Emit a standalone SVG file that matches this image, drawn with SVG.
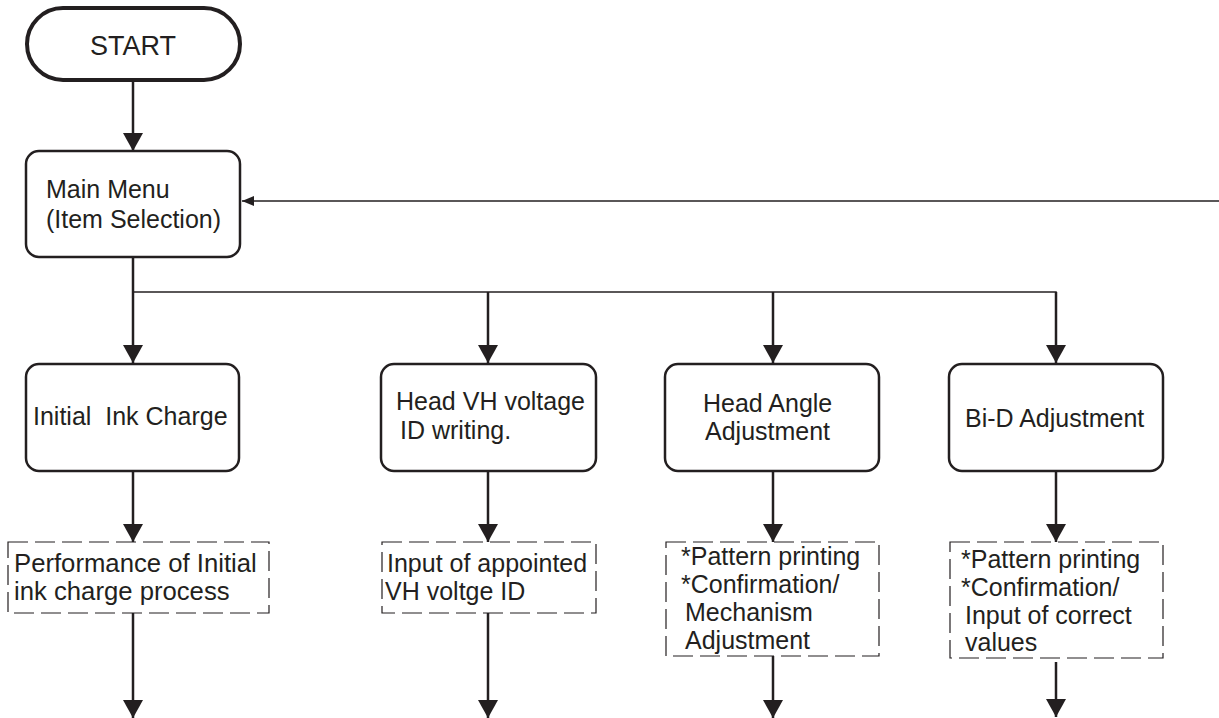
<svg xmlns="http://www.w3.org/2000/svg" width="1219" height="718" viewBox="0 0 1219 718">
<style>
text{font-family:"Liberation Sans",Arial,sans-serif;font-size:25px;fill:#231f20}
.rb{fill:#fff;stroke:#231f20;stroke-width:2.5}
.db{fill:#fff;stroke:#231f20;stroke-width:1.2;stroke-dasharray:20 7}
.ar{fill:none;stroke:#231f20;stroke-width:2.5;marker-end:url(#ah)}
.thin{fill:none;stroke:#231f20;stroke-width:1.5}
</style>
<defs>
<marker id="ah" viewBox="0 0 18 20" refX="18" refY="10" markerWidth="18" markerHeight="20" markerUnits="userSpaceOnUse" orient="auto"><path d="M0,0 L18,10 L0,20 Z" fill="#231f20"/></marker>
<marker id="ahs" viewBox="0 0 12 10" refX="12" refY="5" markerWidth="12" markerHeight="10" markerUnits="userSpaceOnUse" orient="auto"><path d="M0,0 L12,5 L0,10 Z" fill="#231f20"/></marker>
</defs>
<rect width="1219" height="718" fill="#fff"/>
<g id="connectors">
<line class="ar" x1="133" y1="81" x2="133" y2="151"/>
<line class="thin" x1="1219" y1="201" x2="242" y2="201" marker-end="url(#ahs)"/>
<line class="ar" x1="133" y1="257" x2="133" y2="363"/>
<line class="thin" x1="133" y1="292" x2="1056.75" y2="292"/>
<line class="ar" x1="488" y1="292" x2="488" y2="363"/>
<line class="ar" x1="773" y1="292" x2="773" y2="363"/>
<line class="ar" x1="1056" y1="292" x2="1056" y2="363"/>
<line class="ar" x1="133" y1="471" x2="133" y2="542"/>
<line class="ar" x1="488" y1="471" x2="488" y2="542"/>
<line class="ar" x1="773" y1="471" x2="773" y2="542"/>
<line class="ar" x1="1056" y1="471" x2="1056" y2="542"/>
<line class="ar" x1="133" y1="613" x2="133" y2="718"/>
<line class="ar" x1="488" y1="613" x2="488" y2="718"/>
<line class="ar" x1="773" y1="656" x2="773" y2="718"/>
<line class="ar" x1="1056" y1="662" x2="1056" y2="717"/>
</g>
<g id="start">
<rect x="27" y="8" width="213" height="72" rx="36" ry="36" fill="#fff" stroke="#231f20" stroke-width="4"/>
<text x="133" y="55" text-anchor="middle" style="font-size:27px">START</text>
</g>
<g id="main-menu">
<rect class="rb" x="26" y="151" width="214" height="106" rx="13"/>
<text x="46" y="198">Main Menu</text>
<text x="46" y="228">(Item Selection)</text>
</g>
<g id="initial-ink-charge">
<rect class="rb" x="26" y="364" width="213" height="107" rx="13"/>
<text x="33" y="425" xml:space="preserve">Initial  Ink Charge</text>
</g>
<g id="head-vh">
<rect class="rb" x="381" y="364" width="215" height="107" rx="13"/>
<text x="396" y="410">Head VH voltage</text>
<text x="400" y="439">ID writing.</text>
</g>
<g id="head-angle">
<rect class="rb" x="665" y="364" width="214" height="107" rx="13"/>
<text x="703" y="412">Head Angle</text>
<text x="705" y="440">Adjustment</text>
</g>
<g id="bid">
<rect class="rb" x="949" y="364" width="214" height="107" rx="13"/>
<text x="965" y="427">Bi-D Adjustment</text>
</g>
<g id="perf-initial">
<rect class="db" x="8" y="542" width="261" height="71"/>
<text x="14" y="572" style="font-size:25.7px">Performance of Initial</text>
<text x="14" y="600" style="font-size:25.7px">ink charge process</text>
</g>
<g id="input-vh">
<rect class="db" x="382" y="542" width="214" height="71"/>
<text x="387" y="572">Input of appointed</text>
<text x="385" y="600">VH voltge ID</text>
</g>
<g id="pattern-angle">
<rect class="db" x="666" y="542" width="213" height="114"/>
<text x="681" y="565">*Pattern printing</text>
<text x="681" y="593">*Confirmation/</text>
<text x="685" y="621">Mechanism</text>
<text x="685" y="649">Adjustment</text>
</g>
<g id="pattern-bid">
<rect class="db" x="950" y="542" width="213" height="116"/>
<text x="961" y="568">*Pattern printing</text>
<text x="961" y="596">*Confirmation/</text>
<text x="965" y="624">Input of correct</text>
<text x="965" y="651">values</text>
</g>
</svg>
